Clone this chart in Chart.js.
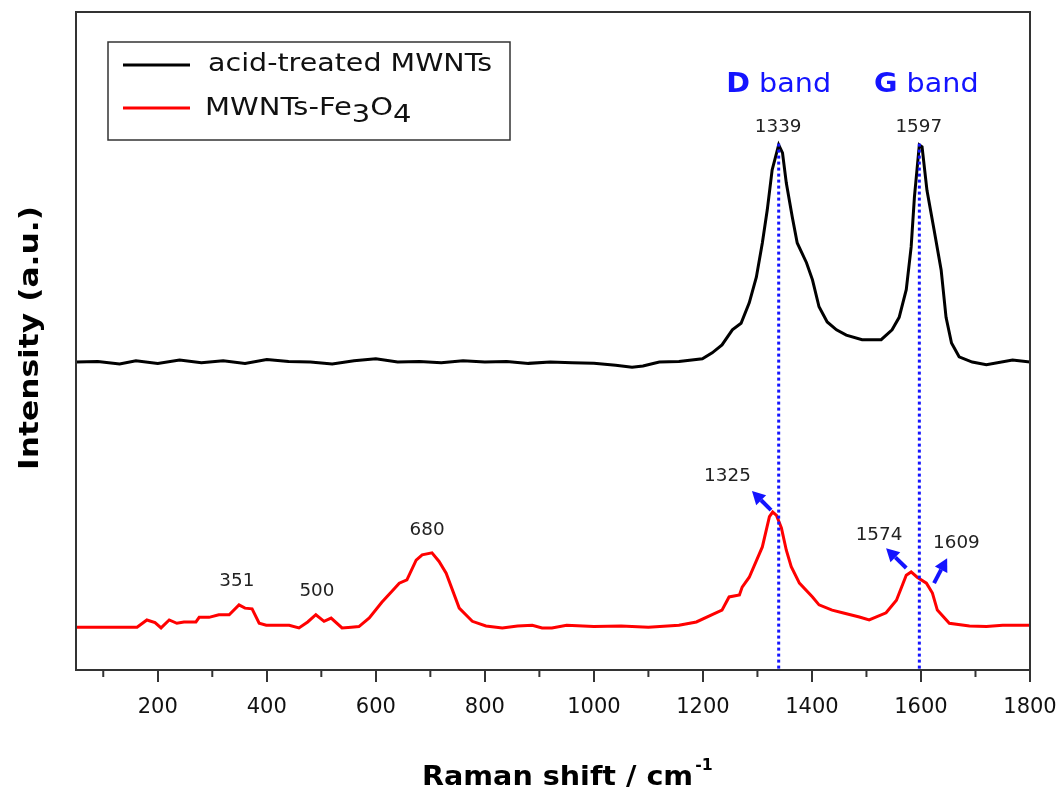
<!DOCTYPE html>
<html>
<head>
<meta charset="utf-8">
<script src="https://cdn.jsdelivr.net/npm/chart.js@4.4.0/dist/chart.umd.min.js"></script>
<style>
  body { margin: 0; background: #fff; }
  #wrap { width: 1062px; height: 791px; }
</style>
</head>
<body>
<div id="wrap"><canvas id="chart" width="1062" height="791"></canvas></div>
<script>
// acid-treated MWNTs (black)
const shiftBlack = [50, 90, 130, 160, 200, 240, 280, 320, 360, 400, 440, 480, 520, 560, 600, 640, 680, 720, 760, 800,
  840, 880, 920, 960, 1000, 1040, 1070, 1090, 1120, 1156, 1199, 1217, 1235, 1254, 1270, 1285, 1298, 1309, 1318, 1327,
  1339, 1346, 1353, 1364, 1373, 1390, 1401, 1413, 1428, 1445, 1463, 1492, 1527, 1547, 1560, 1573, 1582, 1588, 1597, 1602,
  1611, 1624, 1637, 1646, 1656, 1670, 1694, 1720, 1768, 1800]
const intensityBlack = [46.8, 46.9, 46.5, 47.0, 46.6, 47.1, 46.7, 47.0, 46.6, 47.2, 46.9, 46.8, 46.5, 47.0, 47.3, 46.8, 46.9, 46.7, 47.0, 46.8,
  46.9, 46.6, 46.8, 46.7, 46.6, 46.3, 46.0, 46.2, 46.8, 46.9, 47.3, 48.2, 49.4, 51.7, 52.7, 55.8, 59.7, 64.9, 69.9, 76.0,
  79.8, 78.6, 74.0, 68.8, 64.9, 61.9, 59.3, 55.2, 52.9, 51.7, 50.9, 50.2, 50.2, 51.7, 53.6, 57.8, 64.3, 71.9, 79.8, 79.5,
  72.9, 66.9, 60.8, 53.6, 49.7, 47.6, 46.8, 46.4, 47.1, 46.8]

// MWNTs-Fe3O4 (red)
const shiftRed = [50, 100, 162, 180, 195, 206, 221, 235, 248, 270, 276, 294, 312, 331, 349, 360, 373, 386, 399, 420,
  441, 459, 475, 490, 505, 518, 538, 555, 569, 588, 611, 630, 643, 657, 674, 685, 703, 716, 729, 753,
  777, 802, 832, 860, 887, 905, 923, 950, 1000, 1050, 1100, 1156, 1188, 1217, 1235, 1248, 1267, 1272, 1285, 1309,
  1322, 1328, 1335, 1344, 1353, 1362, 1377, 1401, 1413, 1437, 1456, 1487, 1505, 1536, 1555, 1573, 1582, 1593, 1610, 1621,
  1630, 1652, 1689, 1720, 1750, 1800]
const intensityRed = [6.5, 6.5, 6.5, 7.6, 7.2, 6.4, 7.6, 7.1, 7.3, 7.3, 8.0, 8.0, 8.4, 8.4, 9.9, 9.4, 9.3, 7.1, 6.8, 6.8,
  6.8, 6.4, 7.3, 8.4, 7.4, 7.9, 6.4, 6.5, 6.6, 7.9, 10.3, 12.0, 13.2, 13.7, 16.7, 17.5, 17.8, 16.5, 14.7, 9.4,
  7.4, 6.7, 6.4, 6.7, 6.8, 6.4, 6.4, 6.8, 6.6, 6.7, 6.5, 6.8, 7.3, 8.4, 9.1, 11.1, 11.4, 12.6, 14.1, 18.7,
  23.3, 24.0, 23.5, 21.6, 18.2, 15.7, 13.2, 11.1, 9.9, 9.1, 8.7, 8.05, 7.6, 8.7, 10.6, 14.4, 14.9, 14.1, 13.2, 11.7,
  9.1, 7.1, 6.7, 6.6, 6.8, 6.8]

const seriesNames = ['acid-treated MWNTs', 'MWNTs-Fe3O4']
const majorTicks = [200, 400, 600, 800, 1000, 1200, 1400, 1600, 1800]
const minorTicks = [100, 300, 500, 700, 900, 1100, 1300, 1500, 1700]

// band lines and peak labels
const bandShift = [1339, 1597]
const bandNames = ['D', 'G']
const peakText = ['1339', '1597', '1325', '1574', '1609', '351', '500', '680']
const peakX = [1338, 1596, 1245, 1523, 1665, 345, 492, 694]
const peakY = [82.4, 82.5, 29.5, 20.5, 19.3, 13.4, 11.9, 21.3]
// arrows: tail -> head
const arrowFrom = [[1325, 24.3], [1573, 15.5], [1624, 13.2]]
const arrowTo = [[1290, 27.2], [1536, 18.5], [1648, 17.0]]

const FONT = '"DejaVu Sans", Verdana, sans-serif'
const BLUE = '#1414ff'

function toPoints (xs, ys) {
  return xs.map((v, i) => ({ x: v, y: ys[i] }))
}

// text drawn a little wider, like the original figure's font
function wideText (ctx, text, x, y, sx, align) {
  const w = ctx.measureText(text).width * sx
  const left = align === 'center' ? x - w / 2 : x
  ctx.save()
  ctx.translate(left, y)
  ctx.scale(sx, 1)
  ctx.textAlign = 'left'
  ctx.fillText(text, 0, 0)
  ctx.restore()
  return w
}

function drawArrow (ctx, x1, y1, x2, y2) {
  const ang = Math.atan2(y2 - y1, x2 - x1)
  const head = 13
  const bx = x2 - head * Math.cos(ang)
  const by = y2 - head * Math.sin(ang)
  ctx.beginPath()
  ctx.moveTo(x1, y1)
  ctx.lineTo(bx, by)
  ctx.stroke()
  ctx.beginPath()
  ctx.moveTo(x2, y2)
  ctx.lineTo(bx + 7 * Math.sin(ang), by - 7 * Math.cos(ang))
  ctx.lineTo(bx - 7 * Math.sin(ang), by + 7 * Math.cos(ang))
  ctx.closePath()
  ctx.fill()
}

const overlay = {
  id: 'overlay',
  afterDatasetsDraw (chart) {
    const { ctx, chartArea: a, scales: { x, y } } = chart
    ctx.save()

    // dotted band lines
    ctx.strokeStyle = BLUE
    ctx.lineWidth = 3
    ctx.setLineDash([3, 3])
    bandShift.forEach(v => {
      const px = x.getPixelForValue(v)
      ctx.beginPath()
      ctx.moveTo(px, y.getPixelForValue(80))
      ctx.lineTo(px, a.bottom)
      ctx.stroke()
    })
    ctx.setLineDash([])

    // band names
    ctx.fillStyle = BLUE
    ctx.textBaseline = 'alphabetic'
    bandNames.forEach((n, i) => {
      const sx = 1.06
      ctx.font = 'bold 27px ' + FONT
      const w1 = ctx.measureText(n).width * sx
      ctx.font = '27px ' + FONT
      const w2 = ctx.measureText(' band').width * sx
      const cx = x.getPixelForValue(bandShift[i]) + (i ? 7 : 0)
      const left = cx - (w1 + w2) / 2
      ctx.font = 'bold 27px ' + FONT
      wideText(ctx, n, left, 92, sx)
      ctx.font = '27px ' + FONT
      wideText(ctx, ' band', left + w1, 92, sx)
    })

    // peak labels
    ctx.fillStyle = '#222'
    ctx.font = '18px ' + FONT
    ctx.textBaseline = 'middle'
    peakText.forEach((t, i) => {
      wideText(ctx, t, x.getPixelForValue(peakX[i]), y.getPixelForValue(peakY[i]), 1.02, 'center')
    })

    // arrows
    ctx.strokeStyle = BLUE
    ctx.fillStyle = BLUE
    ctx.lineWidth = 4
    arrowFrom.forEach((f, i) => {
      drawArrow(ctx, x.getPixelForValue(f[0]), y.getPixelForValue(f[1]),
        x.getPixelForValue(arrowTo[i][0]), y.getPixelForValue(arrowTo[i][1]))
    })
    ctx.restore()
  },
  afterDraw (chart) {
    const { ctx, chartArea: a, scales: { x } } = chart
    ctx.save()
    // frame
    ctx.strokeStyle = '#333'
    ctx.lineWidth = 2
    ctx.strokeRect(a.left, a.top, a.width, a.height)
    // minor ticks
    minorTicks.forEach(v => {
      const px = x.getPixelForValue(v)
      ctx.beginPath()
      ctx.moveTo(px, a.bottom)
      ctx.lineTo(px, a.bottom + 7)
      ctx.stroke()
    })

    // legend box
    const lx = a.left + 32
    const ly = a.top + 30
    ctx.lineWidth = 1.5
    ctx.strokeRect(lx, ly, 402, 98)
    const colors = ['#000', '#ff0000']
    ctx.lineWidth = 3
    colors.forEach((c, i) => {
      const yy = ly + 23 + i * 43
      ctx.strokeStyle = c
      ctx.beginPath()
      ctx.moveTo(lx + 15, yy)
      ctx.lineTo(lx + 82, yy)
      ctx.stroke()
    })
    ctx.fillStyle = '#111'
    ctx.textBaseline = 'middle'
    ctx.font = '25px ' + FONT
    wideText(ctx, seriesNames[0], lx + 100, ly + 22, 1.14)
    // MWNTs-Fe3O4 with lowered digits
    let tx = lx + 97
    const ty = ly + 66
    const parts = [['MWNTs-Fe', 0], ['3', 1], ['O', 0], ['4', 1]]
    parts.forEach(p => {
      ctx.font = '25px ' + FONT
      tx += wideText(ctx, p[0], tx, ty + (p[1] ? 7 : 0), 1.16)
    })

    // axis titles
    ctx.fillStyle = '#000'
    ctx.textBaseline = 'alphabetic'
    ctx.font = 'bold 26px ' + FONT
    const w = wideText(ctx, 'Raman shift / cm', 422, 785, 1.1)
    ctx.font = 'bold 15px ' + FONT
    wideText(ctx, '-1', 422 + w + 2, 770, 1.05)

    ctx.translate(31, 338)
    ctx.rotate(-Math.PI / 2)
    ctx.font = 'bold 27px ' + FONT
    ctx.textBaseline = 'middle'
    wideText(ctx, 'Intensity (a.u.)', 0, 0, 1.16, 'center')
    ctx.restore()
  }
}

new Chart(document.getElementById('chart'), {
  type: 'line',
  data: {
    datasets: [
      { label: seriesNames[0], data: toPoints(shiftBlack, intensityBlack), borderColor: '#000', borderWidth: 3, pointRadius: 0, tension: 0 },
      { label: seriesNames[1], data: toPoints(shiftRed, intensityRed), borderColor: '#ff0000', borderWidth: 3, pointRadius: 0, tension: 0 }
    ]
  },
  options: {
    responsive: false,
    animation: false,
    layout: { padding: { top: 12, right: 32, left: 0, bottom: 0 } },
    plugins: { legend: { display: false }, tooltip: { enabled: false } },
    scales: {
      x: {
        type: 'linear',
        min: 50,
        max: 1800,
        afterBuildTicks: scale => { scale.ticks = majorTicks.map(v => ({ value: v })) },
        afterFit: scale => {
          scale.height = 121
          scale.paddingLeft = 0
          scale.paddingRight = 0
        },
        border: { display: false },
        grid: { drawOnChartArea: false, drawTicks: true, tickLength: 12, lineWidth: 2, color: '#333' },
        ticks: {
          color: '#111',
          font: { family: FONT, size: 21 },
          padding: 13,
          maxRotation: 0,
          autoSkip: false,
          callback: v => String(v)
        }
      },
      y: {
        min: 0,
        max: 100,
        afterFit: scale => { scale.width = 76 },
        border: { display: false },
        grid: { display: false },
        ticks: { display: false }
      }
    }
  },
  plugins: [overlay]
})
</script>
</body>
</html>
